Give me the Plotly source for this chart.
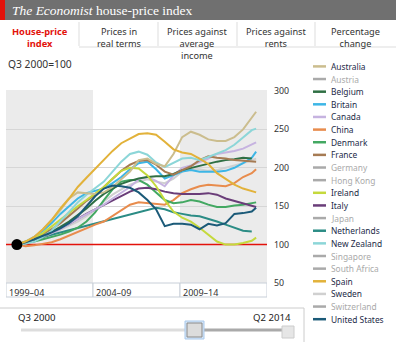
import plotly.graph_objects as go

# ---------------- data ----------------
periods = ["2000Q3", "2001Q1", "2001Q3", "2002Q1", "2002Q3", "2003Q1", "2003Q3", "2004Q1", "2004Q3",
           "2005Q1", "2005Q3", "2006Q1", "2006Q3", "2007Q1", "2007Q3", "2008Q1", "2008Q3", "2009Q1",
           "2009Q3", "2010Q1", "2010Q3", "2011Q1", "2011Q3", "2012Q1", "2012Q3", "2013Q1", "2013Q3",
           "2014Q1", "2014Q2"]
period_labels = ["Q3 2000", "Q2 2014"]

australia = [100, 103, 110, 120, 132, 145, 160, 168, 167, 166, 168, 175, 185, 195, 210, 212, 205, 202, 218, 240,
             247, 243, 237, 235, 235, 240, 250, 265, 273]
belgium = [100, 102, 105, 110, 116, 123, 130, 138, 147, 157, 166, 173, 179, 183, 186, 188, 189, 189, 192, 197,
           200, 203, 206, 208, 210, 211, 213, 212, None]
britain = [100, 104, 110, 118, 128, 140, 150, 160, 167, 170, 173, 180, 188, 198, 206, 208, 198, 186, 190, 195,
           197, 195, 195, 195, 196, 200, 206, 213, 221]
canada = [100, 102, 105, 110, 115, 120, 127, 133, 140, 146, 152, 160, 168, 175, 185, 188, 183, 176, 190, 200,
          203, 207, 212, 218, 220, 222, 225, 230, 233]
china = [100, 98, 99, 101, 103, 107, 112, 116, 122, 126, 130, 137, 145, 152, 155, 154, 153, 152, 158, 167,
         172, 176, 178, 177, 176, 180, 188, 193, 198]
denmark = [100, 102, 104, 107, 110, 113, 117, 122, 130, 142, 158, 172, 182, 184, 184, 178, 168, 158, 154, 155,
           158, 156, 152, 149, 149, 151, 152, 154, 155]
france = [100, 103, 107, 113, 120, 128, 137, 147, 157, 165, 175, 185, 196, 204, 209, 210, 204, 195, 191, 197,
          202, 210, 215, 213, 212, 210, 209, 208, 208]
ireland = [100, 104, 108, 115, 124, 133, 142, 150, 158, 166, 175, 186, 196, 200, 199, 190, 176, 158, 143, 135,
           130, 122, 113, 104, 100, 100, 102, 105, 109]
italy = [100, 102, 105, 110, 115, 121, 127, 134, 140, 146, 152, 158, 164, 169, 173, 174, 172, 169, 167, 166,
         166, 166, 167, 165, 160, 157, 154, 151, 149]
netherlands = [100, 104, 107, 110, 113, 116, 119, 122, 125, 128, 131, 134, 137, 140, 143, 146, 148, 146, 142, 140,
               138, 137, 134, 130, 126, 122, 118, 117, None]
new_zealand = [100, 101, 104, 110, 118, 130, 143, 155, 165, 173, 182, 195, 208, 218, 221, 217, 207, 201, 207, 212,
               213, 210, 214, 218, 223, 230, 240, 249, 251]
spain = [100, 104, 110, 120, 132, 147, 160, 175, 187, 199, 210, 222, 232, 238, 244, 245, 243, 234, 224, 220,
         218, 212, 205, 193, 185, 178, 173, 170, 168]
sweden = [100, 103, 106, 110, 114, 119, 124, 130, 137, 145, 156, 165, 172, 178, 182, 185, 182, 180, 186, 195,
          198, 198, 196, 197, 200, 203, 206, 210, 212]
united_states = [100, 103, 107, 111, 116, 121, 128, 137, 150, 163, 173, 177, 176, 174, 168, 158, 146, 124, 127, 127,
                 126, 120, 127, 125, 128, 140, 141, 143, 148]

legend_names = ["Australia", "Austria", "Belgium", "Britain", "Canada", "China", "Denmark", "France",
                "Germany", "Hong Kong", "Ireland", "Italy", "Japan", "Netherlands", "New Zealand",
                "Singapore", "South Africa", "Spain", "Sweden", "Switzerland", "United States"]
series = {
    "Australia": australia, "Belgium": belgium, "Britain": britain, "Canada": canada, "China": china,
    "Denmark": denmark, "France": france, "Ireland": ireland, "Italy": italy, "Netherlands": netherlands,
    "New Zealand": new_zealand, "Spain": spain, "Sweden": sweden, "United States": united_states,
}
colors = {
    "Australia": "#cbbd8e", "Belgium": "#2f6f43", "Britain": "#3db6e6", "Canada": "#c6b3e0",
    "China": "#e88c4d", "Denmark": "#43a862", "France": "#a67b53", "Ireland": "#c5d93c",
    "Italy": "#6a3d79", "Netherlands": "#2b8c85", "New Zealand": "#8cd6d8", "Spain": "#e2b23a",
    "Sweden": "#d0d0d0", "United States": "#1b5a78",
}
inactive_color = "#aaaaaa"
draw_order = ["Sweden", "Netherlands", "China", "Denmark", "Italy", "Canada", "Britain", "Belgium", "France",
              "Ireland", "New Zealand", "Australia", "United States", "Spain"]

tabs = [["House-price", "index"], ["Prices in", "real terms"], ["Prices against", "average", "income"],
        ["Prices against", "rents"], ["Percentage", "change"]]
bands = [(2000, 2005, "1999–04"), (2005, 2010, "2004–09"), (2010, 2015, "2009–14")]
base_value = 100
y_ticks = [50, 100, 150, 200, 250, 300]


def to_year(p):
    return int(p[:4]) + (int(p[-1]) - 1) / 4 + 0.125


t = [to_year(p) for p in periods]

# ---------------- layout helpers ----------------
W, H = 396, 342
L, R, T, B = 6, 267, 90, 283


def px(x):
    return (x - L) / (R - L)


def py(y):
    return (B - y) / (B - T)


FONT = "Noto Sans"
anns = []
shapes = []


def ann(x, y, text, size=9, color="#333", xanchor="left", family=FONT, yanchor="middle"):
    anns.append(dict(x=px(x), y=py(y), xref="paper", yref="paper", text=text, showarrow=False,
                     xanchor=xanchor, yanchor=yanchor, font=dict(family=family, size=size, color=color)))


def prect(x0, y0, x1, y1, fill, line=None, lw=0, layer="above"):
    shapes.append(dict(type="rect", xref="paper", yref="paper", x0=px(x0), x1=px(x1), y0=py(y1), y1=py(y0),
                       fillcolor=fill, line=dict(color=line or fill, width=lw), layer=layer))


def pline(x0, y0, x1, y1, color, width=1):
    shapes.append(dict(type="line", xref="paper", yref="paper", x0=px(x0), x1=px(x1), y0=py(y0), y1=py(y1),
                       line=dict(color=color, width=width), layer="above"))


fig = go.Figure()

# base line at 100
fig.add_trace(go.Scatter(x=[2000, 2015], y=[base_value, base_value], mode="lines",
                         line=dict(color="#e3120b", width=1.5), hoverinfo="skip"))
for name in draw_order:
    fig.add_trace(go.Scatter(x=t, y=series[name], mode="lines", name=name,
                             line=dict(color=colors[name], width=2), connectgaps=False))
fig.add_trace(go.Scatter(x=[t[0]], y=[base_value], mode="markers",
                         marker=dict(color="black", size=11), hoverinfo="skip"))

# shaded period bands
for i, (a, b, lab) in enumerate(bands):
    if i % 2 == 0:
        shapes.append(dict(type="rect", xref="x", yref="y", x0=a, x1=b, y0=50, y1=301.3,
                           fillcolor="#ebebeb", line=dict(width=0), layer="below"))
    shapes.append(dict(type="rect", xref="x", yref="paper", x0=a, x1=b, y0=py(297), y1=0,
                       fillcolor="white", line=dict(color="#c8cfd8", width=1), layer="above"))
    anns.append(dict(x=a, y=py(292.5), xref="x", yref="paper", text=lab, showarrow=False, xanchor="left",
                     xshift=1, yanchor="middle", font=dict(family=FONT, size=9, color="#333")))

# title bar
prect(0, 0, 396, 20, "#707070")
prect(0, 0, 5, 20, "#e3120b")
ann(10, 10.5, "<i>The Economist</i> house-price index", size=13.5, color="white", family="Liberation Serif")

# tabs (one text block per tab)
tab_edges = [0, 79, 158, 237, 315, 396]
for x in tab_edges[1:-1]:
    pline(x, 22, x, 46, "#dddddd")
pline(79, 47, 396, 47, "#dddddd")
for i, lines in enumerate(tabs):
    cx = (tab_edges[i] + tab_edges[i + 1]) / 2
    if i == 0:
        txt = "<br>".join("<b>%s</b>" % s for s in lines)
        ann(cx, 22.5, txt, size=9.3, color="#e3120b", xanchor="center", yanchor="top")
    else:
        ann(cx, 22.5, "<br>".join(lines), size=9.2, color="#333", xanchor="center", yanchor="top")

ann(6, 64, "Q3 2000=100", size=10.3, color="#333")

# legend (drawn manually)
for i, name in enumerate(legend_names):
    y = 66.4 + 12.64 * i
    active = name in series
    c = colors[name] if active else inactive_color
    pline(313, y, 326, y, c, 2.5)
    ann(329, y, name, size=8.4, color="#1d2b48" if active else inactive_color)

# slider area
pline(0, 308, 304, 308, "#cccccc")
pline(304, 308, 304, 342, "#cccccc")
ann(16, 317, period_labels[0], size=9.6, color="#222")
ann(293, 317, period_labels[1], size=9.6, color="#222", xanchor="right")
pline(21, 330, 188, 330, "#dddddd", 3)
pline(202, 330, 284, 330, "#aaaaaa", 3)
prect(185, 321, 204, 339, "#d6e6f7", "#a9c9ec", 1)
prect(187, 323, 202, 337, "#dcdcdc", "#8a8a8a", 1)
prect(282, 326, 294, 338, "#e6e6e6", "#cccccc", 1)

fig.update_layout(
    width=W, height=H, margin=dict(l=L, r=W - R, t=T, b=H - B),
    paper_bgcolor="white", plot_bgcolor="white", showlegend=False,
    font=dict(family=FONT, size=9, color="#333"),
    xaxis=dict(range=[2000, 2015], showgrid=False, showticklabels=False, zeroline=False,
               showline=False, ticks="", fixedrange=True),
    yaxis=dict(range=[50, 301.3], side="right", tickvals=y_ticks, gridcolor="#d6d6d6", gridwidth=1,
               zeroline=False, showline=False, ticks="", ticklabelstandoff=6,
               tickfont=dict(family=FONT, size=8.8, color="#333"), fixedrange=True),
    shapes=shapes, annotations=anns,
)

fig.write_html("out.html", config={"displayModeBar": False})
